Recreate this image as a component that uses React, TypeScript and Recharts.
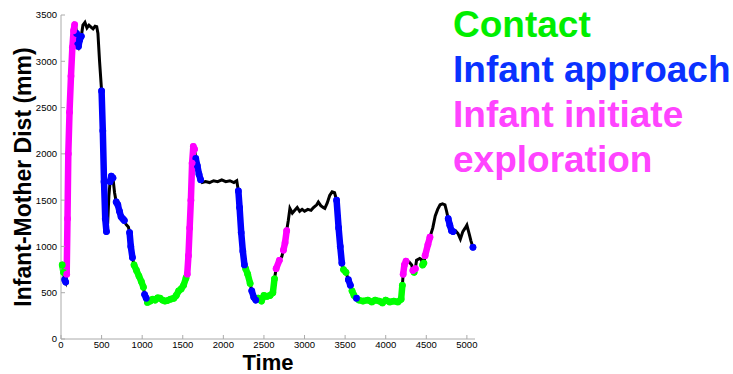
import { LineChart, Line, XAxis, YAxis } from 'recharts';

// time (frames) and infant-mother distance (mm)
const time = [
  0, 15, 30, 45, 58, 70, 80, 90, 105, 123, 140, 155, 168, 180, 192, 205, 215, 230, 250, 270,
  295, 320, 345, 370, 395, 420, 440, 455, 475, 500, 515, 530, 545, 560, 575, 590, 605, 620, 640, 660,
  680, 700, 720, 740, 760, 780, 800, 830, 845, 860, 880, 900, 930, 960, 990, 1015, 1030, 1050, 1065, 1100,
  1130, 1160, 1190, 1220, 1250, 1280, 1310, 1350, 1390, 1420, 1450, 1480, 1510, 1540, 1555, 1570, 1585, 1600, 1615, 1630,
  1645, 1660, 1680, 1700, 1720, 1740, 1780, 1830, 1880, 1930, 1980, 2030, 2080, 2130, 2165, 2185, 2200, 2220, 2240, 2260,
  2275, 2300, 2330, 2350, 2375, 2400, 2430, 2470, 2500, 2535, 2575, 2610, 2630, 2650, 2690, 2720, 2740, 2760, 2780, 2800,
  2820, 2850, 2880, 2910, 2940, 2970, 3000, 3040, 3080, 3110, 3150, 3170, 3200, 3230, 3250, 3280, 3310, 3340, 3370, 3395,
  3420, 3440, 3460, 3480, 3510, 3540, 3565, 3585, 3610, 3640, 3670, 3720, 3780, 3830, 3870, 3920, 3960, 4000, 4050, 4100,
  4150, 4190, 4205, 4215, 4230, 4250, 4290, 4320, 4335, 4350, 4365, 4380, 4420, 4440, 4455, 4470, 4485, 4520, 4545, 4580,
  4610, 4640, 4670, 4700, 4730, 4750, 4770, 4790, 4810, 4830, 4860, 4890, 4920, 4950, 4980, 5000, 5030, 5050, 5075,
];
const dist = [
  830, 800, 720, 640, 615, 700, 1300, 2000, 2450, 2840, 3150, 3330, 3395, 3380, 3300, 3180, 3160, 3230, 3270, 3390,
  3420, 3360, 3390, 3370, 3350, 3380, 3375, 3300, 3000, 2680, 2250, 1700, 1300, 1160, 1250, 1550, 1700, 1760, 1740, 1580,
  1480, 1450, 1380, 1320, 1300, 1280, 1240, 1210, 1150, 1000, 880, 800, 740, 680, 620, 560, 480, 440, 395, 410,
  430, 420, 445, 440, 420, 410, 415, 430, 440, 470, 520, 540, 580, 660, 700, 900, 1200, 1500, 1900, 2080,
  2050, 1950, 1870, 1780, 1720, 1690, 1700, 1690, 1710, 1700, 1720, 1700, 1710, 1690, 1710, 1600, 1420, 1150, 950, 800,
  760, 700, 600, 520, 450, 420, 440, 410, 470, 460, 470, 500, 650, 760, 850, 890, 960, 1040, 1170, 1280,
  1410, 1360, 1390, 1420, 1380, 1400, 1380, 1400, 1390, 1420, 1450, 1480, 1440, 1420, 1410, 1470, 1550, 1590, 1580, 1500,
  1200, 1000, 820, 750, 720, 640, 580, 520, 470, 440, 420, 410, 420, 400, 420, 410, 390, 420, 400, 410,
  400, 430, 580, 700, 800, 840, 830, 800, 740, 720, 760, 850, 870, 860, 800, 820, 900, 1020, 1100, 1200,
  1330, 1400, 1450, 1460, 1450, 1380, 1300, 1230, 1170, 1160, 1170, 1140, 1080, 1160, 1200, 1230, 1130, 1060, 990,
];

// behaviour episodes as [start, end] time spans
const contactSpans = [
  [5, 35], [890, 1020], [1060, 1545], [2270, 2345], [2420, 2640], [3475, 3530], [3580, 3610],
  [3660, 4210], [4345, 4355], [4450, 4475],
];
const approachSpans = [
  [40, 65], [190, 250], [500, 565], [605, 640], [665, 790], [840, 890], [1025, 1055], [1655, 1735],
  [2180, 2270], [2345, 2415], [3390, 3475], [3535, 3575], [3630, 3650], [4765, 4830], [5070, 5080],
];
const exploreSpans = [
  [65, 170], [1550, 1650], [2645, 2700], [2735, 2765], [2775, 2785], [4210, 4255], [4330, 4340],
  [4360, 4370], [4480, 4550],
];

const xTicks = [0, 500, 1000, 1500, 2000, 2500, 3000, 3500, 4000, 4500, 5000];
const yTicks = [0, 500, 1000, 1500, 2000, 2500, 3000, 3500];

const legendItems = [
  { label: 'Contact', color: '#00ee00' },
  { label: 'Infant approach', color: '#0a32ff' },
  { label: 'Infant initiate exploration', color: '#ff44ff' },
];

const FONT = '"Liberation Sans", Arial, Helvetica, sans-serif';

const inSpans = (t: number, spans: number[][]) => spans.some(([a, b]) => t >= a && t <= b);

const data = time.map((t, i) => ({
  t,
  dist: dist[i],
  contact: inSpans(t, contactSpans) ? dist[i] : null,
  approach: inSpans(t, approachSpans) ? dist[i] : null,
  explore: inSpans(t, exploreSpans) ? dist[i] : null,
}));

const YLabel = () => (
  <text
    x={23}
    y={177}
    transform="rotate(-90 23 177)"
    textAnchor="middle"
    dominantBaseline="central"
    fontFamily={FONT}
    fontWeight="bold"
    fontSize={23}
    fill="#000"
  >
    Infant-Mother Dist (mm)
  </text>
);

const XLabel = () => (
  <text x={268} y={370} textAnchor="middle" fontFamily={FONT} fontWeight="bold" fontSize={22} fill="#000">
    Time
  </text>
);

const tickStyle = { fontSize: 9.5, fill: '#000', fontFamily: FONT };

export default function App() {
  const segment = (key: string, color: string) => (
    <Line
      type="linear"
      dataKey={key}
      stroke={color}
      strokeWidth={6.5}
      strokeLinecap="round"
      strokeLinejoin="round"
      dot={{ r: 3.4, fill: color, stroke: 'none' }}
      activeDot={false}
      connectNulls={false}
      isAnimationActive={false}
    />
  );

  return (
    <div style={{ position: 'absolute', left: 0, top: 0, width: 733, height: 374, overflow: 'hidden', background: '#fff' }}>
      <LineChart width={733} height={374} data={data} margin={{ top: 15, right: 258, bottom: 0, left: 0 }}>
        <XAxis
          dataKey="t"
          type="number"
          domain={[0, 5100]}
          ticks={xTicks}
          height={35}
          stroke="#aaa"
          tickSize={-4}
          tickMargin={6}
          tick={tickStyle}
          label={{ content: XLabel }}
        />
        <YAxis
          type="number"
          domain={[0, 3500]}
          ticks={yTicks}
          width={61}
          stroke="#aaa"
          tickSize={-4}
          tickMargin={8}
          tick={tickStyle}
          label={{ content: YLabel }}
        />
        <Line
          type="linear"
          dataKey="dist"
          stroke="#000"
          strokeWidth={3}
          dot={false}
          activeDot={false}
          isAnimationActive={false}
        />
        {segment('contact', '#00ff00')}
        {segment('approach', '#0000ff')}
        {segment('explore', '#ff00ff')}
      </LineChart>
      <div
        style={{
          position: 'absolute',
          left: 453,
          top: 2,
          width: 280,
          fontFamily: FONT,
          fontWeight: 'bold',
          fontSize: 37,
          lineHeight: '45px',
        }}
      >
        {legendItems.map((item) => (
          <div key={item.label} style={{ color: item.color }}>
            {item.label}
          </div>
        ))}
      </div>
    </div>
  );
}
